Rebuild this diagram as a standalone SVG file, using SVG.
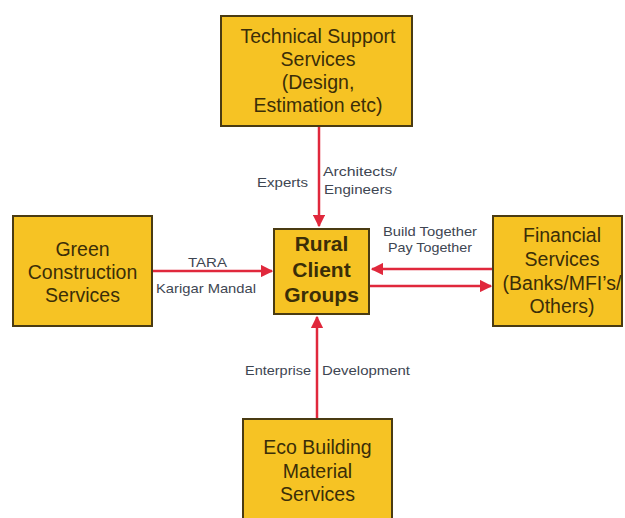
<svg xmlns="http://www.w3.org/2000/svg" width="625" height="518" viewBox="0 0 625 518">
<defs>
<style>
.box{fill:#f6c324;stroke:#4a3b12;stroke-width:2}
.bt{font-family:"Liberation Sans",Arial,sans-serif;font-size:19.5px;fill:#3b2e08;text-anchor:middle}
.ct{font-family:"Liberation Sans",Arial,sans-serif;font-size:21px;font-weight:bold;fill:#3b2e08;text-anchor:middle}
.lb{font-family:"Liberation Sans",Arial,sans-serif;font-size:13px;fill:#3e4652}
.ar{stroke:#e0283c;stroke-width:2.5;fill:none;marker-end:url(#ah)}
</style>
<marker id="ah" viewBox="0 0 10 10" refX="9" refY="5" markerWidth="5" markerHeight="5" orient="auto" markerUnits="strokeWidth">
<path d="M0,0 L10,5 L0,10 Z" fill="#e0283c"/>
</marker>
</defs>
<rect width="625" height="518" fill="#ffffff"/>
<g id="connectors">
<line class="ar" x1="319" y1="127" x2="319" y2="226"/>
<line class="ar" x1="153" y1="271" x2="272" y2="271"/>
<line class="ar" x1="492" y1="269" x2="372" y2="269"/>
<line class="ar" x1="370" y1="286" x2="491" y2="286"/>
<line class="ar" x1="317" y1="418" x2="317" y2="317"/>
<text class="lb" x="257" y="187" textLength="51" lengthAdjust="spacingAndGlyphs">Experts</text>
<text class="lb" x="323" y="176" textLength="74" lengthAdjust="spacingAndGlyphs">Architects/</text>
<text class="lb" x="324" y="194" textLength="68" lengthAdjust="spacingAndGlyphs">Engineers</text>
<text class="lb" x="188" y="267" textLength="39" lengthAdjust="spacingAndGlyphs">TARA</text>
<text class="lb" x="156" y="293" textLength="100" lengthAdjust="spacingAndGlyphs">Karigar Mandal</text>
<text class="lb" x="383" y="236" textLength="94" lengthAdjust="spacingAndGlyphs">Build Together</text>
<text class="lb" x="388" y="252" textLength="84" lengthAdjust="spacingAndGlyphs">Pay Together</text>
<text class="lb" x="245" y="375" textLength="66" lengthAdjust="spacingAndGlyphs">Enterprise</text>
<text class="lb" x="322" y="375" textLength="88" lengthAdjust="spacingAndGlyphs">Development</text>
</g>
<g id="technical">
<rect class="box" x="221" y="16" width="191" height="110"/>
<text class="bt" x="318" y="43">Technical Support</text>
<text class="bt" x="318" y="66">Services</text>
<text class="bt" x="318" y="89">(Design,</text>
<text class="bt" x="318" y="112">Estimation etc)</text>
</g>
<g id="green">
<rect class="box" x="13" y="216" width="139" height="110"/>
<text class="bt" x="82.5" y="256">Green</text>
<text class="bt" x="82.5" y="279">Construction</text>
<text class="bt" x="82.5" y="302">Services</text>
</g>
<g id="rural">
<rect class="box" x="274" y="229" width="95" height="85"/>
<text class="ct" x="321.5" y="251">Rural</text>
<text class="ct" x="321.5" y="277">Client</text>
<text class="ct" x="321.5" y="302">Groups</text>
</g>
<g id="financial">
<rect class="box" x="493" y="216" width="129" height="110"/>
<text class="bt" x="562" y="242">Financial</text>
<text class="bt" x="562" y="266">Services</text>
<text class="bt" x="562" y="290">(Banks/MFI’s/</text>
<text class="bt" x="562" y="313">Others)</text>
</g>
<g id="eco">
<rect class="box" x="243" y="419" width="149" height="110"/>
<text class="bt" x="317.5" y="454">Eco Building</text>
<text class="bt" x="317.5" y="478">Material</text>
<text class="bt" x="317.5" y="501">Services</text>
</g>
</svg>
